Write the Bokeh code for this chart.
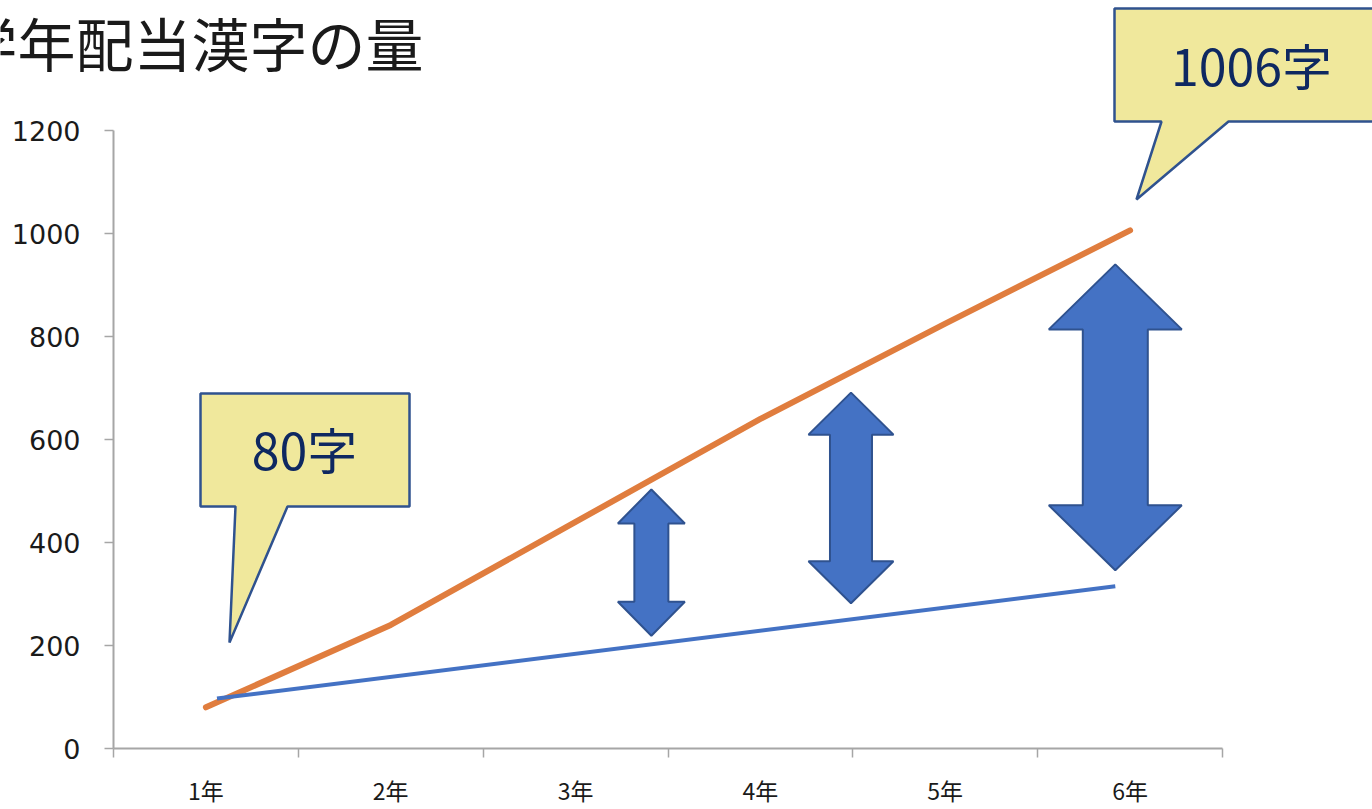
from bokeh.plotting import figure
from bokeh.models import Range1d, FixedTicker, Label
from bokeh.embed import file_html
from bokeh.resources import INLINE

# ---------------- data ----------------
title_text = "学年配当漢字の量"
grades = ["1年", "2年", "3年", "4年", "5年", "6年"]
cumulative_kanji = [80, 240, 440, 640, 825, 1006]      # orange line
blue_x = [0.56, 5.42]                                  # blue reference line (category units)
blue_y = [97, 315]
y_ticks = [0, 200, 400, 600, 800, 1000, 1200]
arrow_x = [2.91, 3.99, 5.42]
arrow_top = [503, 691, 940]
arrow_bottom = [219, 282, 346]

# ---------------- geometry helpers ----------------
PX_PER_CAT = 1109 / 6.0     # pixels per category
PX_PER_VAL = 618 / 1200.0   # pixels per value unit
LEFT, BOTTOM = 113, 748     # position of the axes' origin in page pixels


def dx(px):
    return (px - LEFT) / PX_PER_CAT


def dy(py):
    return (BOTTOM - py) / PX_PER_VAL


W, H = 1372, 809
p = figure(width=W, height=H, output_backend="svg", toolbar_location=None, tools="",
           x_range=Range1d(dx(0), dx(W)), y_range=Range1d(dy(H), dy(0)),
           min_border_left=0, min_border_right=0, min_border_top=0,
           min_border_bottom=0)
p.outline_line_color = None
p.grid.visible = False
p.background_fill_color = "white"
p.border_fill_color = "white"

cat_x = [i + 0.5 for i in range(len(grades))]

# ---------------- axes ----------------
axis_color = "#A6A6A6"
xa = p.xaxis[0]
xa.fixed_location = 0
xa.ticker = FixedTicker(ticks=cat_x, minor_ticks=list(range(len(grades) + 1)))
xa.major_label_overrides = {c: g for c, g in zip(cat_x, grades)}
xa.bounds = (0, len(grades))
xa.axis_line_color = axis_color
xa.axis_line_width = 2
xa.major_tick_out = 0
xa.major_tick_in = 0
xa.major_tick_line_color = None
xa.minor_tick_out = 9
xa.minor_tick_in = 0
xa.minor_tick_line_color = axis_color
xa.minor_tick_line_width = 1.5
xa.major_label_standoff = 15
xa.major_label_text_font = "Noto Sans CJK JP"
xa.major_label_text_font_size = "23px"
xa.major_label_text_color = "#1a1a1a"

ya = p.yaxis[0]
ya.fixed_location = 0
ya.ticker = FixedTicker(ticks=y_ticks, minor_ticks=[])
ya.bounds = (0, 1200)
ya.axis_line_color = axis_color
ya.axis_line_width = 2
ya.major_tick_out = 9
ya.major_tick_in = 0
ya.major_tick_line_color = axis_color
ya.major_tick_line_width = 1.5
ya.minor_tick_line_color = None
ya.major_label_standoff = 24
ya.major_label_text_font = "DejaVu Sans"
ya.major_label_text_font_size = "27px"
ya.major_label_text_color = "#1a1a1a"

# ---------------- lines ----------------
p.line(cat_x, cumulative_kanji, line_color="#E07D3E", line_width=6,
       line_cap="round", line_join="round")
p.line(blue_x, blue_y, line_color="#4472C4", line_width=4)

# ---------------- double arrows ----------------
head_half_px = [33.5, 42.5, 66.5]
shaft_half_px = [17, 21, 32.5]
head_len_px = [34, 42, 65]
axs, ays = [], []
for cx, yt, yb, hw, sw, hl in zip(arrow_x, arrow_top, arrow_bottom,
                                  head_half_px, shaft_half_px, head_len_px):
    hwd, swd, hld = hw / PX_PER_CAT, sw / PX_PER_CAT, hl / PX_PER_VAL
    axs.append([cx, cx + hwd, cx + swd, cx + swd, cx + hwd, cx,
                cx - hwd, cx - swd, cx - swd, cx - hwd])
    ays.append([yt, yt - hld, yt - hld, yb + hld, yb + hld, yb,
                yb + hld, yb + hld, yt - hld, yt - hld])
p.patches(axs, ays, fill_color="#4472C4", line_color="#2F528F", line_width=2)

# ---------------- callouts ----------------
c1 = [(200, 393), (409, 393), (409, 506), (287, 506), (229, 642), (235, 506), (200, 506)]
c2 = [(1114, 8), (1390, 8), (1390, 121), (1228, 121), (1136, 199), (1161, 121), (1114, 121)]
cxs = [[dx(a) for a, b in c] for c in (c1, c2)]
cys = [[dy(b) for a, b in c] for c in (c1, c2)]
p.patches(cxs, cys, fill_color="#F0E89C", line_color="#2F528F", line_width=2.5)

callout_font = "Noto Sans CJK JP"
for txt, (px_, py_) in ((f"{cumulative_kanji[0]}字", (304, 447)),
                        (f"{cumulative_kanji[-1]}字", (1251, 63))):
    p.add_layout(Label(x=dx(px_), y=dy(py_), text=txt, text_align="center",
                       text_baseline="middle", text_font=callout_font,
                       text_font_size="50px", text_color="#0E2861"))

# ---------------- title (cut off at left edge, as in the reference) ----------------
p.add_layout(Label(x=dx(-41), y=dy(41), text=title_text, text_align="left",
                   text_baseline="middle", text_font="Noto Sans CJK JP",
                   text_font_size="58px", text_color="#1a1a1a"))

open("out.html", "w").write(file_html(p, INLINE))
